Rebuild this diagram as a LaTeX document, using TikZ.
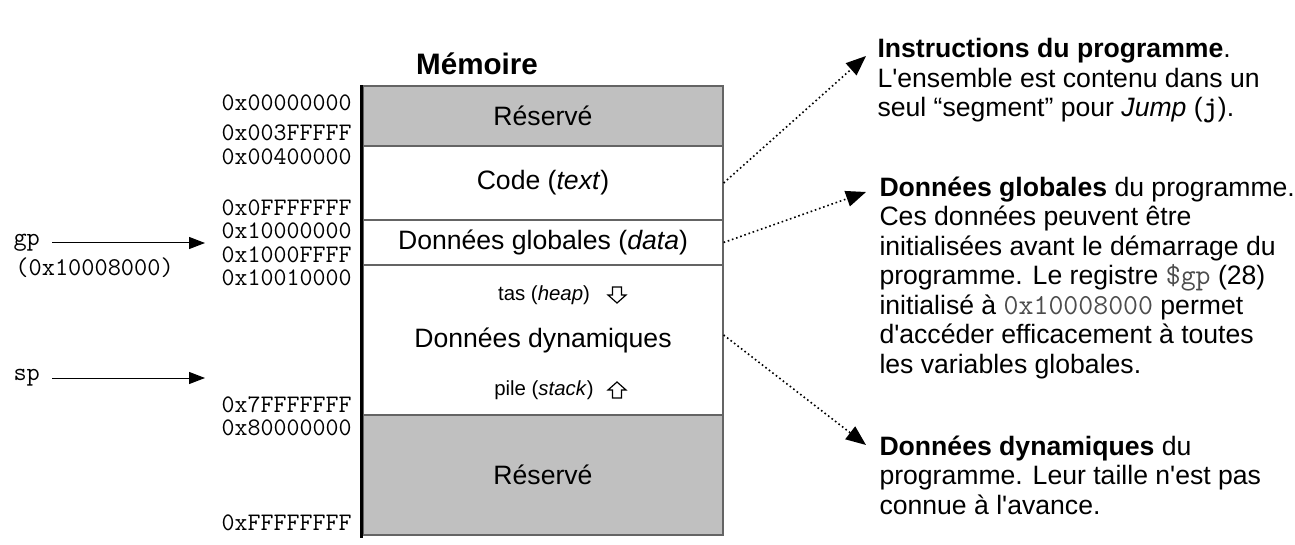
\documentclass[tikz,border=0pt]{standalone}
\usepackage{fontspec}
\setmainfont{Liberation Sans}[Ligatures=TeXOff]
\usetikzlibrary{arrows.meta,calc}
\definecolor{resgray}{RGB}{192,192,192}
\definecolor{edge}{RGB}{100,100,100}
\tikzset{
  >={Triangle[length=8pt,width=6pt]},
  seg/.style={draw=edge,line width=0.6pt,minimum width=180pt,inner sep=0pt,font=\fontsize{13.3}{16}\selectfont},
  res/.style={seg,fill=resgray},
  addr/.style={anchor=east,inner sep=0pt,font=\ttfamily\fontsize{12.6}{13}\selectfont},
  reg/.style={anchor=west,inner sep=0pt,font=\ttfamily\fontsize{12.8}{15}\selectfont},
  small/.style={inner sep=0pt,font=\fontsize{10.2}{12}\selectfont},
  note/.style={anchor=north west,align=left,inner sep=0pt,font=\fontsize{13.3}{14.75}\selectfont},
  lnk/.style={->,line width=0.8pt,dash pattern=on 0.8pt off 1.4pt,>={Triangle[length=10pt,width=8pt]}},
  hollow/.pic={\draw[line width=0.6pt,fill=white] (-4.5,8)--(4.5,8)--(4.5,0)--(9,0)--(0,-8)--(-9,0)--(-4.5,0)--cycle;},
  every picture/.style={line width=0.5pt},
}
\newcommand{\regtxt}[1]{{\color{black!70}\ttfamily\fontsize{14.5}{14.75}\selectfont #1}}
\begin{document}
\begin{tikzpicture}[x=0.5pt,y=-0.5pt]
\useasboundingbox (0,0) rectangle (1295,545);
% memoire
\node[font=\bfseries\fontsize{14.8}{17}\selectfont] (title) at (477,64) {Mémoire};
\node[res,minimum height=30pt] (res1) at (543,116) {Réservé};
\node[seg,minimum height=37pt] (code) at (543,183) {Code (\textit{text})};
\node[seg,minimum height=22.5pt] (glob) at (543,242.5) {Données globales (\textit{data})};
\node[seg,minimum height=75pt] (dyn) at (543,340) {Données dynamiques};
\node[res,minimum height=60pt] (res2) at (543,475) {Réservé};
\draw[line width=1.6pt] ([xshift=-0.5pt]res1.north west) -- ([xshift=-0.5pt,yshift=-1pt]res2.south west);
\node[small] (heap) at (544,295) {tas (\textit{heap})}; \pic[rotate=180] at (617,295) {hollow};
\node[small] (stack) at (544,390) {pile (\textit{stack})}; \pic at (617,390) {hollow};
% adresses
\foreach \y/\a in {103/00000000,133/003FFFFF,157/00400000,208/0FFFFFFF,231/10000000,
  255/1000FFFF,278/10010000,405/7FFFFFFF,428/80000000,523/FFFFFFFF}
  \node[addr] (a\y) at (352,\y) {0x\a};
% registres
\node[reg] (gp) at (13,243) {gp}; \node[reg] (gpval) at (15,268) {(0x10008000)};
\node[reg] (sp) at (13,378) {sp};
\coordinate (gpto) at (205,243); \coordinate (spto) at (205,378);
\draw[->] ([xshift=6pt]gp.east) -- (gpto); \draw[->] ([xshift=6pt]sp.east) -- (spto);
% explications
\node[note] (instr) at (877,38) {\textbf{Instructions du programme}.\\L'ensemble est contenu dans un\\seul “segment” pour \textit{Jump} (\regtxt{\color{black}\bfseries j}).};
\node[note] (gdesc) at (879,176) {\textbf{Données globales} du programme.\\Ces données peuvent être\\initialisées avant le démarrage du\\programme. Le registre \regtxt{\$gp} (28)\\initialisé à \regtxt{0x10008000} permet\\d'accéder efficacement à toutes\\les variables globales.};
\node[note] (ddesc) at (879,435) {\textbf{Données dynamiques} du\\programme. Leur taille n'est pas\\connue à l'avance.};
\draw[lnk] (code.east) -- ([shift={(-11,18)}]instr.north west);
\draw[lnk] (glob.east) -- ([shift={(-13,16)}]gdesc.north west);
\draw[lnk] ([yshift=2.5pt]dyn.east) -- ([shift={(-13,10)}]ddesc.north west);
\end{tikzpicture}
\end{document}
